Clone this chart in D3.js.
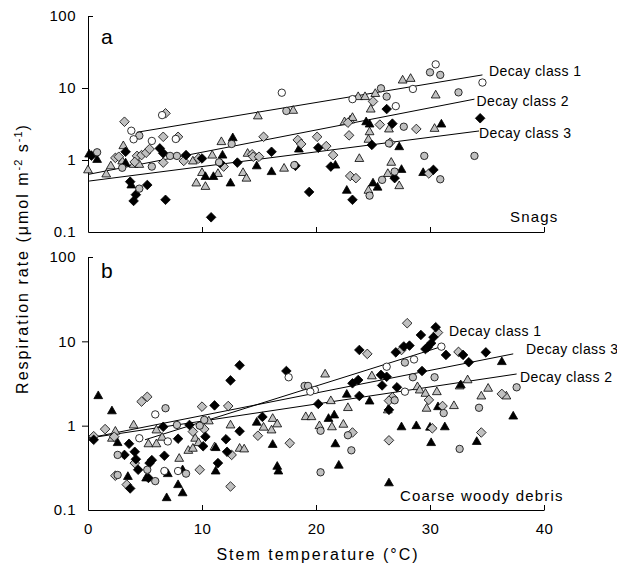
<!DOCTYPE html>
<html>
<head>
<meta charset="utf-8">
<script src="https://cdn.jsdelivr.net/npm/d3@7"></script>
<style>
body { margin: 0; background: #fff; }
text { font-family: "Liberation Sans", Arial, sans-serif; fill: #000; }
</style>
</head>
<body>
<div id="chart"></div>
<script>
// axis ticks
const xTicks = [0, 10, 20, 30, 40];
const yTicks = [0.1, 1, 10, 100];
const yTickLabels = ["0.1", "1", "10", "100"];

// panel a: snags, points are [stem temperature, respiration rate]
const aOpenCircle = [[3.8,2.55],[4.0,1.94],[5.6,1.84],[6.5,4.2],[7.7,1.96],[17.0,8.6],[23.2,7.0],[27.0,5.6],[28.5,9.7],[30.5,21.3],[34.6,11.9]];
const aGreyCircle = [[0.8,1.28],[3.0,0.78],[4.5,2.18],[4.5,0.40],[5.6,0.81],[7.2,1.14],[7.8,1.14],[11.5,0.93],[12.6,1.67],[17.4,4.8],[18.1,0.85],[25.7,9.9],[26.2,7.6],[26.4,1.70],[25.8,0.53],[24.7,0.32],[27.7,2.9],[26.9,0.69],[29.5,1.14],[33.9,1.14],[30.9,0.54],[30.0,16.5],[30.9,15.2],[32.5,8.7]];
const aGreyDiamond = [[2.4,1.07],[2.7,1.11],[3.2,3.4],[4.3,1.14],[4.1,0.94],[4.7,1.17],[5.1,1.26],[5.4,1.42],[6.8,4.45],[6.6,2.1],[6.6,0.92],[7.9,2.1],[8.4,0.97],[9.7,1.05],[11.9,0.81],[14.4,1.2],[14.5,1.11],[15.0,1.11],[15.4,2.1],[18.4,1.9],[18.7,1.67],[20.1,2.1],[20.9,1.56],[21.5,1.17],[22.8,3.3],[22.9,2.2],[23.0,0.60],[23.5,0.56],[25.6,3.1],[25.0,6.5],[26.5,1.74],[28.8,2.7],[29.9,0.65]];
const aBlackDiamond = [[0.3,1.15],[3.3,1.30],[3.7,0.50],[4.2,0.33],[4.0,0.27],[5.2,0.45],[6.3,1.45],[6.6,1.24],[6.8,0.28],[8.6,1.17],[10.0,1.05],[10.8,0.16],[11.6,0.91],[13.1,0.92],[16.1,1.30],[18.2,0.83],[19.4,0.36],[20.2,1.48],[21.3,0.81],[23.2,0.28],[24.9,1.62],[26.2,5.1],[26.7,3.2],[26.9,0.56],[30.3,0.73],[34.4,3.8]];
const aGreyTriangle = [[0.0,0.73],[1.6,0.64],[2.0,0.83],[3.1,1.58],[3.0,0.97],[4.0,0.87],[4.5,0.87],[9.2,0.97],[9.5,0.48],[10.0,0.67],[10.3,0.43],[10.9,1.17],[11.4,0.65],[11.7,1.80],[13.6,0.67],[13.9,0.56],[14.0,1.24],[14.9,4.1],[17.2,0.77],[18.0,4.9],[22.5,3.4],[23.0,3.6],[23.2,3.9],[23.8,1.05],[23.7,7.6],[24.3,7.6],[25.2,8.4],[27.6,12.9],[28.3,13.6],[24.8,5.1],[24.7,2.47],[24.6,1.94],[26.3,0.65],[24.6,0.38],[26.4,2.7],[30.4,2.75],[30.5,8.0],[26.6,0.93],[27.3,0.44]];
const aBlackTriangle = [[0.1,1.21],[0.8,1.02],[3.3,0.91],[3.8,0.45],[10.3,0.59],[11.0,0.59],[11.8,1.17],[12.7,2.04],[12.5,0.48],[14.8,0.83],[16.1,0.69],[18.5,1.42],[21.7,0.85],[22.7,0.38],[24.4,3.4],[24.7,3.16],[25.0,0.48],[25.4,0.42],[27.3,1.53],[27.5,0.74],[31.0,3.16],[29.4,0.67]];

// panel b: coarse woody debris
const bOpenCircle = [[5.9,1.36],[4.5,0.71],[7.0,0.65],[6.7,0.29],[7.9,0.29],[17.6,3.75],[19.9,2.65],[19.5,2.53],[26.2,5.0],[28.6,6.1],[31.0,8.65],[27.8,2.53]];
const bGreyCircle = [[2.6,0.45],[2.6,0.26],[5.2,0.30],[5.9,0.22],[6.8,1.61],[8.6,0.27],[7.8,1.02],[9.8,1.0],[10.2,1.17],[19.0,2.96],[19.3,2.96],[20.4,0.87],[20.4,0.28],[22.8,0.77],[23.1,0.51],[27.8,5.6],[28.5,3.75],[30.4,3.75],[26.9,2.0],[31.2,1.41],[34.3,1.63],[32.6,0.53],[37.6,2.85]];
const bGreyDiamond = [[0.5,0.75],[1.5,0.91],[2.3,0.74],[2.4,0.255],[3.4,0.20],[4.1,0.36],[4.7,1.93],[5.2,2.2],[9.2,0.85],[10.0,1.68],[10.2,0.91],[9.8,0.30],[12.3,1.71],[12.6,0.45],[12.5,0.19],[14.9,0.76],[17.7,0.62],[23.2,0.83],[24.5,7.1],[26.4,0.67],[26.7,2.17],[26.4,1.98],[28.0,16.4],[30.7,12.7],[27.5,7.9],[29.9,2.02],[31.1,1.71],[30.2,0.93],[32.5,7.5],[34.5,0.83],[36.3,2.38]];
const bBlackDiamond = [[0.5,0.68],[3.2,0.45],[3.6,0.61],[3.7,0.18],[4.1,0.49],[4.2,0.40],[4.4,0.30],[5.3,0.24],[5.6,0.39],[5.4,0.36],[6.6,0.97],[6.7,0.44],[7.9,0.70],[8.9,1.02],[10.3,0.74],[10.1,0.57],[11.1,1.74],[12.5,3.44],[13.3,5.2],[12.1,0.69],[11.4,0.36],[12.2,0.49],[13.3,0.86],[15.3,1.27],[17.4,4.45],[20.2,1.81],[23.2,3.18],[23.7,3.48],[23.8,2.25],[23.8,7.9],[25.7,4.0],[25.8,3.0],[26.2,3.8],[26.4,1.54],[27.1,2.85],[27.0,7.4],[27.7,8.7],[28.2,8.9],[29.2,11.9],[30.3,11.2],[30.5,14.7],[30.1,9.5],[29.8,8.5],[29.6,8.1],[29.3,4.45],[31.4,6.9],[32.9,6.9],[33.4,5.65],[34.9,7.4]];
const bGreyTriangle = [[2.4,0.86],[2.1,0.71],[4.0,1.02],[5.3,0.61],[6.0,0.61],[6.0,0.89],[6.5,0.73],[8.0,0.41],[8.8,0.51],[9.2,0.54],[9.4,0.71],[9.7,0.63],[10.6,1.14],[11.1,0.56],[12.5,1.02],[13.3,0.54],[13.7,0.53],[15.4,0.96],[16.2,1.22],[16.6,1.05],[16.1,0.89],[19.1,1.28],[19.6,1.28],[20.8,4.1],[20.3,1.0],[21.3,1.98],[21.4,0.97],[22.4,1.04],[22.8,1.64],[24.9,3.9],[28.9,2.9],[29.1,2.65],[29.6,2.42],[30.6,2.53],[29.7,1.61],[32.1,1.73],[32.6,2.96],[33.3,3.5],[35.1,2.78],[34.5,2.25],[36.7,2.25],[26.3,1.54]];
const bBlackTriangle = [[0.9,2.27],[2.1,1.5],[2.6,0.63],[3.5,0.25],[5.1,0.24],[7.0,0.27],[8.3,0.30],[7.9,0.20],[6.9,0.14],[8.3,0.16],[11.2,0.55],[11.2,0.29],[14.8,1.1],[16.2,0.60],[16.6,0.33],[16.7,0.29],[21.1,1.22],[21.6,1.34],[22.7,2.36],[21.7,0.61],[22.0,0.34],[24.7,1.96],[26.4,0.21],[27.5,0.97],[28.8,1.0],[30.0,0.96],[31.3,0.97],[30.1,0.63],[30.7,1.68],[32.7,3.05],[34.1,0.65],[36.3,5.75],[37.3,1.30]];

// fitted lines, end points [temperature, rate]
const aLineNames = ["Decay class 1", "Decay class 2", "Decay class 3"];
const aLines = [[[4.3,2.43],[34.6,15.2]], [[0,0.63],[33.9,7.0]], [[0.1,0.51],[34.3,2.53]]];
const bLineNames = ["Decay class 1", "Decay class 3", "Decay class 2"];
const bLines = [[[5.0,0.68],[31.0,8.65]], [[0,0.71],[37.3,7.1]], [[0,0.71],[37.6,4.1]]];

const width = 617, height = 565;
const svg = d3.select("#chart").append("svg")
    .attr("width", width)
    .attr("height", height);

const x = d3.scaleLinear().domain([0, 40]).range([88, 544]);

const shapes = {
    circle: d3.symbol(d3.symbolCircle, Math.PI * 3.7 * 3.7)(),
    diamond: "M0,-4.8L4.8,0L0,4.8L-4.8,0Z",
    triangle: "M0,-4.7L4.4,3L-4.4,3Z"
};

function drawPanel(p) {
    const y = d3.scaleLog().domain([0.1, 100]).range([p.bottom, p.top]);
    const g = svg.append("g");

    // y axis
    const yAxis = g.append("g")
        .attr("transform", "translate(88,0)")
        .call(d3.axisLeft(y).tickValues(yTicks).tickSize(6).tickSizeOuter(0)
            .tickPadding(6).tickFormat((d, i) => yTickLabels[i]));
    yAxis.selectAll(".tick").filter(d => d === 100).select("line").attr("x2", 5);
    yAxis.selectAll(".tick").filter(d => d === 0.1).select("line").remove();
    yAxis.selectAll("text")
        .style("font-size", "15px")
        .style("letter-spacing", "0.5px");

    // x axis, ticks pointing inward
    const xAxis = g.append("g")
        .attr("transform", `translate(0,${p.bottom})`)
        .call(d3.axisBottom(x).tickValues(xTicks).tickSize(-5).tickSizeOuter(0)
            .tickPadding(13).tickFormat(p.xLabels ? d3.format("d") : ""));
    xAxis.selectAll(".tick").filter(d => d === 0).select("line").remove();
    xAxis.selectAll("text")
        .style("font-size", "15px")
        .style("letter-spacing", "0.5px");

    g.selectAll(".domain").attr("stroke", "#000");

    // regression lines
    const line = d3.line().x(d => x(d[0])).y(d => y(d[1]));
    g.selectAll(".fit").data(p.lines).enter().append("path")
        .attr("class", "fit")
        .attr("d", line)
        .attr("fill", "none")
        .attr("stroke", "#000")
        .attr("stroke-width", 1);

    // points
    p.series.forEach(s => {
        g.append("g").selectAll("path").data(s.data).enter().append("path")
            .attr("transform", d => `translate(${x(d[0])},${y(d[1])})`)
            .attr("d", shapes[s.shape])
            .attr("fill", s.fill)
            .attr("stroke", "#000")
            .attr("stroke-width", 0.8);
    });

    // line labels
    p.lineLabels.forEach((l, i) => {
        g.append("text")
            .attr("x", l[0]).attr("y", l[1])
            .style("font-size", "14px")
            .style("letter-spacing", "0.4px")
            .text(p.lineNames[i]);
    });

    g.append("text")
        .attr("x", 101).attr("y", p.letterY)
        .style("font-size", "21px")
        .text(p.letter);

    g.append("text")
        .attr("x", p.nameX).attr("y", p.nameY)
        .style("font-size", "15px")
        .style("letter-spacing", "1.2px")
        .text(p.name);
}

const grey = "#c0c0c0";

drawPanel({
    top: 16, bottom: 232, letter: "a", letterY: 43.5, name: "Snags", nameX: 510, nameY: 221.5,
    xLabels: false,
    lines: aLines, lineNames: aLineNames,
    lineLabels: [[489, 76], [476.5, 106], [479, 138.3]],
    series: [
        {data: aGreyTriangle, shape: "triangle", fill: grey},
        {data: aBlackTriangle, shape: "triangle", fill: "#000"},
        {data: aGreyDiamond, shape: "diamond", fill: grey},
        {data: aBlackDiamond, shape: "diamond", fill: "#000"},
        {data: aGreyCircle, shape: "circle", fill: grey},
        {data: aOpenCircle, shape: "circle", fill: "#fff"}
    ]
});

drawPanel({
    top: 257, bottom: 510, letter: "b", letterY: 277.5, name: "Coarse woody debris", nameX: 400, nameY: 501,
    xLabels: true,
    lines: bLines, lineNames: bLineNames,
    lineLabels: [[449, 336], [526, 354.3], [520, 381.7]],
    series: [
        {data: bGreyTriangle, shape: "triangle", fill: grey},
        {data: bBlackTriangle, shape: "triangle", fill: "#000"},
        {data: bGreyDiamond, shape: "diamond", fill: grey},
        {data: bBlackDiamond, shape: "diamond", fill: "#000"},
        {data: bGreyCircle, shape: "circle", fill: grey},
        {data: bOpenCircle, shape: "circle", fill: "#fff"}
    ]
});

// axis titles
svg.append("text")
    .attr("x", 318).attr("y", 559.5)
    .attr("text-anchor", "middle")
    .style("font-size", "16px")
    .style("letter-spacing", "2px")
    .text("Stem temperature (°C)");

const yTitle = svg.append("text")
    .attr("transform", "translate(28,258.5) rotate(-90)")
    .attr("text-anchor", "middle")
    .style("font-size", "16px")
    .style("letter-spacing", "2px");
yTitle.append("tspan").text("Respiration rate (μmol m");
yTitle.append("tspan").attr("dy", -6).style("font-size", "11px").style("letter-spacing", "1px").text("-2");
yTitle.append("tspan").attr("dy", 6).text(" s");
yTitle.append("tspan").attr("dy", -6).style("font-size", "11px").style("letter-spacing", "1px").text("-1");
yTitle.append("tspan").attr("dy", 6).text(")");
</script>
</body>
</html>
